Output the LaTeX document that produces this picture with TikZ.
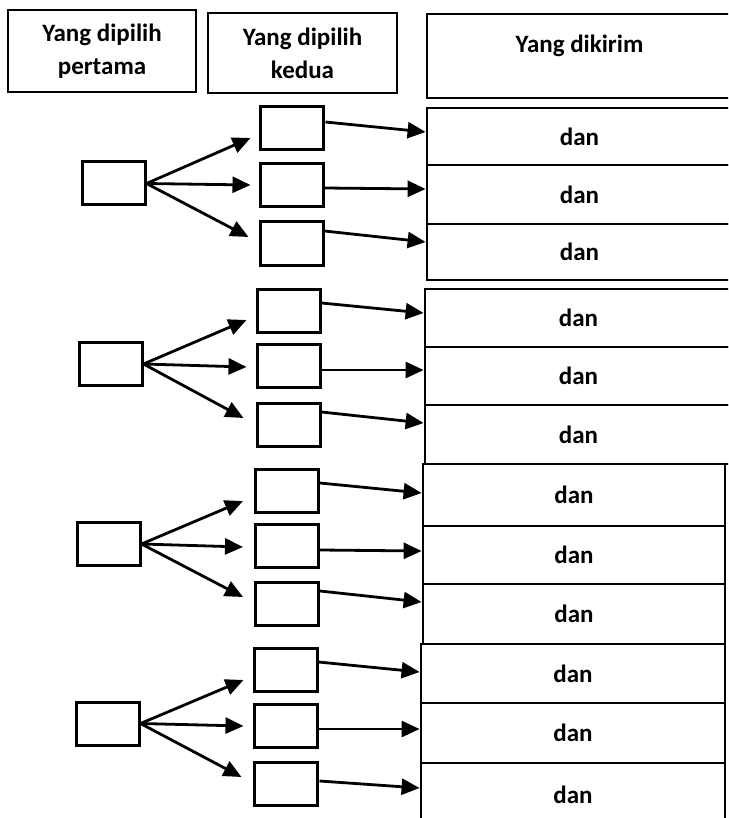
\documentclass[tikz,border=0pt]{standalone}
\usepackage{fontspec}
\setmainfont{Carlito}
\usetikzlibrary{arrows.meta,calc}
\tikzset{
  box/.style={draw, line width=3pt, inner sep=0pt, minimum width=63pt, minimum height=43pt},
  row/.style={draw, line width=2.8pt, inner sep=0pt, font=\bfseries\fontsize{25}{31}\selectfont},
  hdr/.style={draw, line width=2.8pt, inner sep=0pt, align=center, font=\bfseries\fontsize{25}{33}\selectfont},
  arr/.style={line width=2.8pt, -{Triangle[length=18pt,width=16pt]}},
  lbl/.style={font=\bfseries\fontsize{25}{31}\selectfont}
}
\begin{document}
\begin{tikzpicture}[x=1pt,y=-1pt]
\clip (0,0) rectangle (728,818);
\fill[white] (0,0) rectangle (728,818);
% headers
\node[hdr, minimum width=188pt, minimum height=82pt] (h1) at (102,51) {Yang dipilih\\pertama};
\node[hdr, minimum width=189pt, minimum height=80pt] (h2) at (302.5,53) {Yang dipilih\\kedua};
\node[hdr, minimum width=305pt, minimum height=84pt, label={[lbl,yshift=10pt]center:Yang dikirim}] (h3) at (579.5,56) {};
% right column rows
\node[row, minimum width=305pt, minimum height=57pt] (r11) at (579.5,136.5) {dan};
\node[row, minimum width=305pt, minimum height=59pt] (r12) at (579.5,194.5) {dan};
\node[row, minimum width=305pt, minimum height=56pt] (r13) at (579.5,252) {dan};
\node[row, minimum width=307pt, minimum height=58pt] (r21) at (578.5,318) {dan};
\node[row, minimum width=307pt, minimum height=58pt] (r22) at (578.5,376) {dan};
\node[row, minimum width=307pt, minimum height=59pt] (r23) at (578.5,434.5) {dan};
\node[row, minimum width=302pt, minimum height=62pt] (r31) at (574,495) {dan};
\node[row, minimum width=302pt, minimum height=58pt] (r32) at (574,555) {dan};
\node[row, minimum width=302pt, minimum height=60pt] (r33) at (574,614) {dan};
\node[row, minimum width=304pt, minimum height=59pt] (r41) at (573,673.5) {dan};
\node[row, minimum width=304pt, minimum height=60pt] (r42) at (573,733) {dan};
\node[row, minimum width=304pt, minimum height=63pt] (r43) at (573,794.5) {dan};
% first-level boxes
\node[box] (f1) at (113.5,183.5) {};
\node[box] (f2) at (110.5,364) {};
\node[box] (f3) at (108.5,544) {};
\node[box] (f4) at (107.5,723.5) {};
% second-level boxes
\node[box] (s11) at (291.5,128.5) {};
\node[box] (s12) at (291.5,185) {};
\node[box] (s13) at (291.5,243.5) {};
\node[box] (s21) at (288.5,310.5) {};
\node[box] (s22) at (288.5,366) {};
\node[box] (s23) at (288.5,424.5) {};
\node[box] (s31) at (287,490.5) {};
\node[box] (s32) at (287,546) {};
\node[box] (s33) at (287,604) {};
\node[box] (s41) at (285.5,669.5) {};
\node[box] (s42) at (285.5,725.5) {};
\node[box] (s43) at (285.5,784) {};
% arrows first -> second
\draw[arr] (f1.east) -- ($(s11.west)+(-8,9.5)$);
\draw[arr] (f1.east) -- ($(s12.west)+(-8,0)$);
\draw[arr] (f1.east) -- ($(s13.west)+(-10,-6.5)$);
\draw[arr] (f2.east) -- ($(s21.west)+(-9,9.5)$);
\draw[arr] (f2.east) -- ($(s22.west)+(-9,1)$);
\draw[arr] (f2.east) -- ($(s23.west)+(-12,-6.5)$);
\draw[arr] (f3.east) -- ($(s31.west)+(-11,10.5)$);
\draw[arr] (f3.east) -- ($(s32.west)+(-11,1)$);
\draw[arr] (f3.east) -- ($(s33.west)+(-11,-7)$);
\draw[arr] (f4.east) -- ($(s41.west)+(-9,10.5)$);
\draw[arr] (f4.east) -- ($(s42.west)+(-9,0.5)$);
\draw[arr] (f4.east) -- ($(s43.west)+(-11,-7)$);
% arrows second -> rows
\draw[arr] ($(s11.east)+(1,-6.5)$) -- ($(r11.west)+(0,-4.5)$);
\draw[arr] ($(s12.east)+(0,3)$) -- ($(r12.west)+(0,-5.5)$);
\draw[arr] ($(s13.east)+(0,-12.5)$) -- ($(r13.west)+(0,-10)$);
\draw[arr] ($(s21.east)+(0,-7.5)$) -- ($(r21.west)+(0,-5)$);
\draw[arr] ($(s22.east)+(0,4)$) -- ($(r22.west)+(0,-6)$);
\draw[arr] ($(s23.east)+(0,-12.5)$) -- ($(r23.west)+(0,-11.5)$);
\draw[arr] ($(s31.east)+(0,-7.5)$) -- ($(r31.west)+(0,-2)$);
\draw[arr] ($(s32.east)+(0,4)$) -- ($(r32.west)+(0,-4)$);
\draw[arr] ($(s33.east)+(0,-13)$) -- ($(r33.west)+(0,-12)$);
\draw[arr] ($(s41.east)+(0,-7.5)$) -- ($(r41.west)+(0,-1.5)$);
\draw[arr] ($(s42.east)+(0,3.5)$) -- ($(r42.west)+(0,-4)$);
\draw[arr] ($(s43.east)+(1,-3)$) -- ($(r43.west)+(0,-6.5)$);
\end{tikzpicture}
\end{document}
